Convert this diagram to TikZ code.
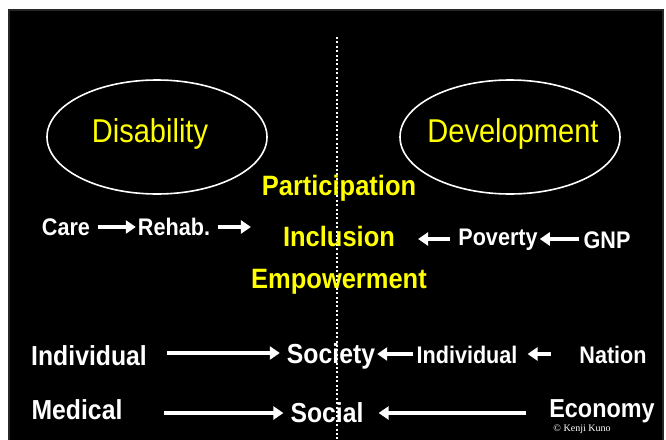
\documentclass[tikz,border=0pt]{standalone}
\usepackage{fontspec}
\setmainfont{Liberation Sans}
\setsansfont{Liberation Sans}
\usepackage{xcolor}
\usepackage{tikz}
\usetikzlibrary{calc, shapes.geometric, positioning, arrows.meta}

\definecolor{slideframe}{RGB}{40,38,38}
\definecolor{slideyellow}{RGB}{255,255,0}

\tikzset{
    topic/.style={font=\fontsize{33}{35}\selectfont, text=slideyellow, inner sep=0pt, xscale=0.88, transform shape},
    oval/.style={draw=white, line width=1.6pt, ellipse, minimum width=220pt, minimum height=114pt},
    keyword/.style={font=\fontsize{28}{30}\selectfont\bfseries, text=slideyellow, inner sep=0pt, xscale=0.91, transform shape},
    term/.style={font=\fontsize{24}{26}\selectfont\bfseries, text=white, inner sep=0pt, xscale=0.9, transform shape},
    bigterm/.style={font=\fontsize{27.5}{29}\selectfont\bfseries, text=white, inner sep=0pt, xscale=0.9, transform shape},
    flow/.style={draw=white, line width=4pt, -{Triangle[width=13pt, length=10pt]}},
}

\begin{document}
\begin{tikzpicture}[x=1pt, y=-1pt]
    \useasboundingbox (0,0) rectangle (666,439);
    % Hintergrund der Folie
    \fill[white] (0,0) rectangle (666,439);
    \fill[black, draw=slideframe, line width=2pt] (9,10) rectangle (663,445);

    % Trennlinie
    \coordinate (divtop) at (337,37);
    \coordinate (divbot) at (337,439);
    \draw[white, line width=2pt, dash pattern=on 2pt off 2.4pt] (divtop) -- (divbot);

    % Die zwei Ovale
    \node[oval] (disab) at (157,137) {};
    \node[topic] (disabtxt) at (150,134) {Disability};
    \node[oval] (devel) at (510,137) {};
    \node[topic] (develtxt) at (513,134) {Development};

    % Mitte
    \node[keyword] (partic) at (339,188) {Participation};
    \node[keyword] (incl) at (339,236) {Inclusion};
    \node[keyword] (empow) at (339,282) {Empowerment};

    % Zeile Care / Poverty
    \node[term] (care) at (66,227) {Care};
    \node[term] (rehab) at (174,227) {Rehab.};
    \node[term] (pov) at (498,240) {Poverty};
    \node[term] (gnp) at (607,240) {GNP};

    \draw[flow, shorten <=8pt, shorten >=2pt] (care.east) -- (rehab.west);
    \draw[flow, shorten <=8pt, shorten >=32pt] (rehab.east) -- (rehab.east -| incl.west);
    \draw[flow, shorten <=8pt, shorten >=23pt] ([yshift=1pt]pov.west) -- ([yshift=1pt]pov.west -| incl.east);
    \draw[flow, shorten <=4pt, shorten >=2pt] ([yshift=1pt]gnp.west) -- ([yshift=1pt]pov.east);

    % Zeile Individual / Society
    \node[bigterm] (indl) at (89,356) {Individual};
    \node[bigterm] (soc) at (331,356) {Society};
    \node[term] (indr) at (467,355) {Individual};
    \node[term] (nation) at (613,355) {Nation};

    \draw[flow, shorten <=20pt, shorten >=7pt] ([yshift=3pt]indl.east) -- ([yshift=3pt]indl.east -| soc.west);
    \draw[flow, shorten <=3pt, shorten >=2pt] ([yshift=1pt]indr.west) -- ([yshift=1pt]indr.west -| soc.east);
    \draw[flow, shorten <=28pt, shorten >=10pt] ([yshift=1pt]nation.west) -- ([yshift=1pt]indr.east);

    % Zeile Medical / Social
    \node[bigterm] (med) at (77,410) {Medical};
    \node[bigterm] (socl) at (327,413) {Social};
    \node[bigterm, font=\fontsize{26}{28}\selectfont\bfseries] (econ) at (602,411) {Economy};

    \draw[flow, shorten <=41pt, shorten >=7pt] (med.east |- socl.west) -- (socl.west);
    \draw[flow, shorten <=23pt, shorten >=15pt] (econ.west |- socl.east) -- (socl.east);

    % Copyright
    \node[font=\fontsize{10}{11}\selectfont, text=white, inner sep=0pt] (copy) at (582,429) {\fontspec{Liberation Serif}© Kenji Kuno};
\end{tikzpicture}
\end{document}
